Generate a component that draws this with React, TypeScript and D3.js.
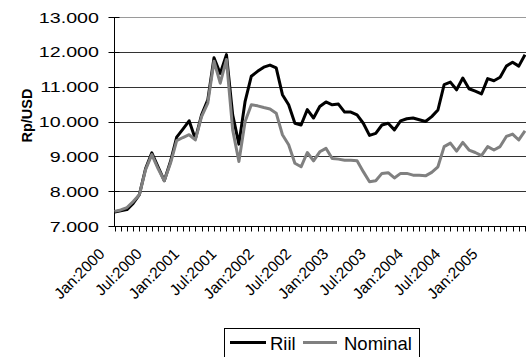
import React from 'react';
import * as d3 from 'd3';

// Monthly exchange rate, Rp per USD, Jan 2000 – Jul 2005
const monthNames = ['Jan', 'Feb', 'Mar', 'Apr', 'May', 'Jun', 'Jul', 'Aug', 'Sep', 'Oct', 'Nov', 'Dec'];
const years = [2000, 2001, 2002, 2003, 2004, 2005];
const categories: string[] = years
  .flatMap((y) => monthNames.map((m) => `${m}:${y}`))
  .slice(0, 67);

const riil = [
  7400, 7440, 7470, 7650, 7900, 8650, 9100, 8700, 8300, 8850, 9550, 9780,
  10020, 9500, 10190, 10620, 11830, 11380, 11920, 10190, 9350, 10580, 11300, 11440,
  11560, 11620, 11540, 10770, 10480, 9950, 9900, 10340, 10100, 10430, 10560, 10480,
  10500, 10270, 10270, 10190, 9950, 9600, 9660, 9900, 9950, 9760, 10020, 10080,
  10100, 10050, 10000, 10140, 10330, 11060, 11130, 10910, 11250, 10940, 10870, 10790,
  11230, 11170, 11270, 11590, 11700, 11590, 11920,
];

const nominal = [
  7420, 7460, 7530, 7700, 7900, 8620, 9050, 8650, 8300, 8800, 9450, 9540,
  9620, 9470, 10140, 10530, 11730, 11100, 11780, 9760, 8850, 10000, 10480, 10450,
  10400, 10360, 10240, 9620, 9330, 8800, 8700, 9110, 8870, 9130, 9230, 8940,
  8920, 8890, 8890, 8870, 8560, 8270, 8300, 8510, 8530, 8380, 8510, 8510,
  8460, 8460, 8440, 8540, 8700, 9280, 9380, 9150, 9400, 9180, 9110, 9020,
  9280, 9180, 9280, 9570, 9640, 9470, 9730,
];

const yTicks = [7000, 8000, 9000, 10000, 11000, 12000, 13000];
const xTickLabels = [
  'Jan:2000', 'Jul:2000', 'Jan:2001', 'Jul:2001', 'Jan:2002', 'Jul:2002',
  'Jan:2003', 'Jul:2003', 'Jan:2004', 'Jul:2004', 'Jan:2005',
];

const W = 526;
const H = 357;
const plot = { left: 114.5, right: 525, top: 17, bottom: 226 };
const FONT = 'Liberation Sans, Arial, Helvetica, sans-serif';
const fmt = (v: number) => d3.format(',')(v).replace(/,/g, '.');

export default function App() {
  const x = d3.scaleLinear().domain([0, categories.length - 1]).range([plot.left, plot.right]);
  const y = d3.scaleLinear().domain([7000, 13000]).range([plot.bottom, plot.top]);
  const line = d3
    .line<number>()
    .x((_, i) => x(i))
    .y((v) => y(v));

  return (
    <>
      <style>{`body{margin:0}`}</style>
      <svg width={W} height={H} style={{ display: 'block', background: '#fff' }} fontFamily={FONT}>
        {/* horizontal gridlines */}
        {yTicks.slice(1).map((t) => (
          <line
            key={`g${t}`}
            x1={plot.left}
            x2={W}
            y1={Math.round(y(t)) + 0.5}
            y2={Math.round(y(t)) + 0.5}
            stroke={t === 13000 ? '#9a9a9a' : '#333'}
            strokeWidth={1}
          />
        ))}
        {/* y axis with crossing tick marks */}
        <line x1={plot.left} x2={plot.left} y1={y(13000)} y2={y(7000)} stroke="#000" />
        {yTicks.map((t) => (
          <line
            key={`yt${t}`}
            x1={plot.left - 6}
            x2={plot.left + 5}
            y1={Math.round(y(t)) + 0.5}
            y2={Math.round(y(t)) + 0.5}
            stroke="#000"
          />
        ))}
        {yTicks.map((t) => (
          <g key={`yl${t}`} transform={`translate(99,${y(t) + 5.5}) scale(1.27,1)`}>
            <text textAnchor="end" fontSize={15.5} fill="#000">
              {fmt(t)}
            </text>
          </g>
        ))}
        {/* x axis with monthly tick marks */}
        <line x1={plot.left} x2={W} y1={Math.round(y(7000)) + 0.5} y2={Math.round(y(7000)) + 0.5} stroke="#000" />
        {categories.map((c, i) => (
          <line
            key={`xt${c}`}
            x1={Math.round(x(i)) + 0.5}
            x2={Math.round(x(i)) + 0.5}
            y1={Math.round(y(7000)) + 0.5}
            y2={Math.round(y(7000)) + 5.5}
            stroke="#000"
          />
        ))}
        {xTickLabels.map((lab) => {
          const i = categories.indexOf(lab);
          return (
            <g key={`xl${lab}`} transform={`translate(${x(i) - 9},255) rotate(-45)`}>
              <text textAnchor="end" fontSize={15.5} fill="#000">
                {lab}
              </text>
            </g>
          );
        })}
        {/* axis title */}
        <text
          transform="translate(32,115.5) rotate(-90)"
          textAnchor="middle"
          fontSize={14.5}
          fontWeight="bold"
          fill="#000"
        >
          Rp/USD
        </text>
        {/* series */}
        <path d={line(riil) ?? ''} fill="none" stroke="#000" strokeWidth={3} strokeLinejoin="round" />
        <path d={line(nominal) ?? ''} fill="none" stroke="#808080" strokeWidth={3} strokeLinejoin="round" />
        {/* legend */}
        <rect x={224.5} y={328.5} width={195} height={32} fill="#fff" stroke="#000" />
        <line x1={230} x2={266} y1={342.5} y2={342.5} stroke="#000" strokeWidth={3} />
        <text x={270} y={350} fontSize={18.5} fill="#000">Riil</text>
        <line x1={303} x2={337} y1={342.5} y2={342.5} stroke="#808080" strokeWidth={3} />
        <text x={344} y={350} fontSize={18.5} fill="#000">Nominal</text>
      </svg>
    </>
  );
}
